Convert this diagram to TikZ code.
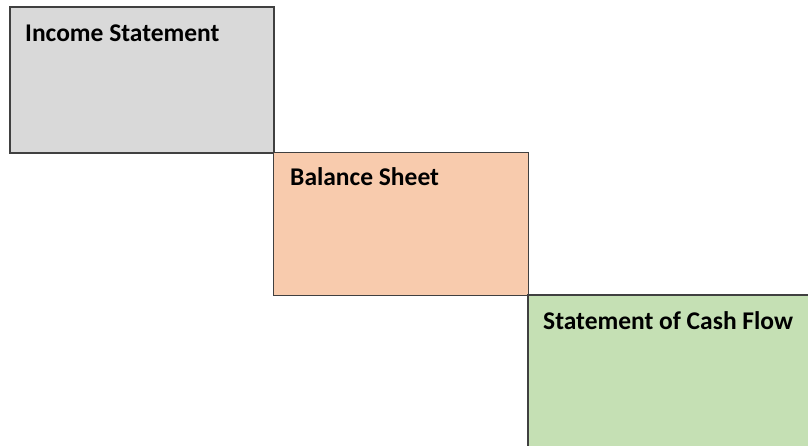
\documentclass[tikz,border=0pt]{standalone}
\usepackage{fontspec}
\setmainfont{Carlito}
\definecolor{boxline}{HTML}{404040}
\definecolor{isgray}{HTML}{D9D9D9}
\definecolor{bsorange}{HTML}{F8CBAD}
\definecolor{cfgreen}{HTML}{C5E0B4}
\begin{document}
\begin{tikzpicture}[x=1pt,y=-1pt,
  box/.style={draw=boxline, line width=1.5pt, rectangle, anchor=north west, inner sep=0pt, outer sep=0pt},
  lbl/.style={anchor=base west, inner sep=0pt, font=\bfseries\fontsize{25.5}{30}\selectfont}]
\useasboundingbox (0,0) rectangle (808,445);
\clip (0,0) rectangle (808,445);
\node[box, fill=isgray, minimum width=264pt, minimum height=146pt] (is) at (10,7) {};
\node[box, fill=bsorange, minimum width=255pt, minimum height=143pt] (bs) at (273.5,152.5) {};
\node[box, fill=cfgreen, minimum width=400pt, minimum height=250pt] (cf) at (528,295) {};
\node[lbl] (isl) at (25,41) {Income Statement};
\node[lbl] (bsl) at (290,185.5) {Balance Sheet};
\node[lbl] (cfl) at (543,329.5) {Statement of Cash Flow};
\end{tikzpicture}
\end{document}
